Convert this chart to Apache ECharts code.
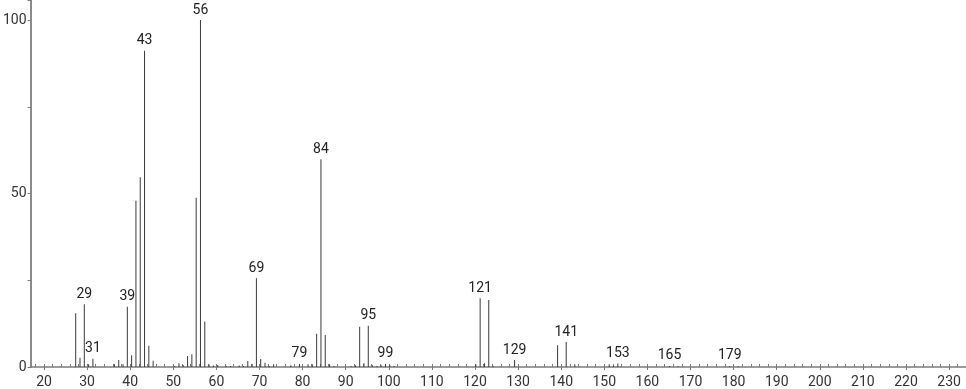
<!DOCTYPE html>
<html>
<head>
<meta charset="utf-8">
<script src="https://cdn.jsdelivr.net/npm/echarts@6/dist/echarts.min.js"></script>
<style>html,body{margin:0;padding:0;background:#fff}#c{width:966px;height:389px}</style>
</head>
<body>
<div id="c"></div>
<script>
const mz = [27,28,29,30,31,36,37,38,39,40,41,42,43,44,45,50,51,52,53,54,55,56,57,58,59,60,62,63,65,66,67,68,69,70,71,72,73,77,79,81,82,83,84,85,86,87,91,92,93,94,95,96,97,98,99,100,101,120,121,122,123,124,129,139,141,143,151,152,153,165,167,179,181];
const intensity = [15.5,2.7,18.1,0.8,2.4,0.8,2.0,0.8,17.4,3.4,47.9,54.7,91.2,6.1,1.8,0.3,1.1,0.5,3.2,3.7,48.8,100,13.1,0.7,0.4,0.6,0.3,0.3,0.4,0.3,1.7,0.9,25.6,2.3,1.2,0.3,0.8,0.5,0.9,0.8,0.8,9.6,59.9,9.2,0.8,0.3,0.3,0.5,11.6,1.1,11.9,0.5,0.3,0.5,0.9,0.5,0.3,0.8,19.8,1.1,19.3,0.3,2.0,6.3,7.2,0.8,0.8,0.3,1.0,0.3,0.2,0.3,0.2];
const labeledPeaks = [29,31,39,43,56,69,79,84,95,99,121,129,141,153,165,179];
const xLabelMin = 20, xLabelMax = 230;
const xMinorMin = 18, xMinorMax = 232;
const yTickMax = 100;

const FONT = 'Roboto';
const PX = 4.31;          // pixels per m/z unit
const X20 = 44;           // pixel of m/z 20
const LEFT = 29, W = 966;
const xMin = xLabelMin - (X20 - LEFT) / PX;
const xMax = xLabelMin + (W - X20) / PX;

const chart = echarts.init(document.getElementById('c'), null, {renderer: 'canvas'});
const data = mz.map((m, i) => ({
  value: [m, intensity[i]],
  label: {show: labeledPeaks.includes(m)}
}));
const gridY = {top: 0, bottom: 22, containLabel: false};
chart.setOption({
  animation: false,
  grid: [
    Object.assign({left: LEFT, width: W - LEFT}, gridY),
    Object.assign({left: X20 + (xMinorMin - xLabelMin) * PX, width: (xMinorMax - xMinorMin) * PX}, gridY),
    Object.assign({left: X20, width: (xLabelMax - xLabelMin) * PX}, gridY)
  ],
  xAxis: [
    {type: 'value', gridIndex: 0, min: xMin, max: xMax,
     axisLine: {show: true, lineStyle: {color: '#7a7a7a', width: 1.5}},
     axisTick: {show: false}, axisLabel: {show: false}, splitLine: {show: false}},
    {type: 'value', gridIndex: 1, min: xMinorMin, max: xMinorMax, interval: 2,
     axisLine: {show: false},
     axisTick: {show: true, inside: true, length: 3, lineStyle: {color: '#7a7a7a'}},
     axisLabel: {show: false}, splitLine: {show: false}},
    {type: 'value', gridIndex: 2, min: xLabelMin, max: xLabelMax, interval: 10,
     axisLine: {show: false},
     axisTick: {show: true, inside: false, length: 4, lineStyle: {color: '#7a7a7a'}},
     axisLabel: {show: true, margin: 9, color: '#333', fontFamily: FONT, fontSize: 14},
     splitLine: {show: false}}
  ],
  yAxis: [
    {type: 'value', gridIndex: 0, min: 0, max: 105.8, interval: 25,
     axisLine: {show: true, lineStyle: {color: '#8a8a8a', width: 2}},
     axisTick: {show: true, inside: false, length: 3, lineStyle: {color: '#7a7a7a'}},
     axisLabel: {show: true, margin: 4, color: '#333', fontFamily: FONT, fontSize: 14,
       formatter: v => (v % 50 === 0 && v <= yTickMax ? String(v) : '')},
     splitLine: {show: false}},
    {type: 'value', gridIndex: 1, min: 0, max: 105.8, show: false},
    {type: 'value', gridIndex: 2, min: 0, max: 105.8, show: false}
  ],
  series: [{
    type: 'bar', xAxisIndex: 0, yAxisIndex: 0, barWidth: 1,
    itemStyle: {color: '#3a3a3a'},
    label: {position: 'top', distance: 3, color: '#222', fontFamily: FONT, fontSize: 14,
      formatter: p => String(p.value[0])},
    data: data
  }]
});
</script>
</body>
</html>
